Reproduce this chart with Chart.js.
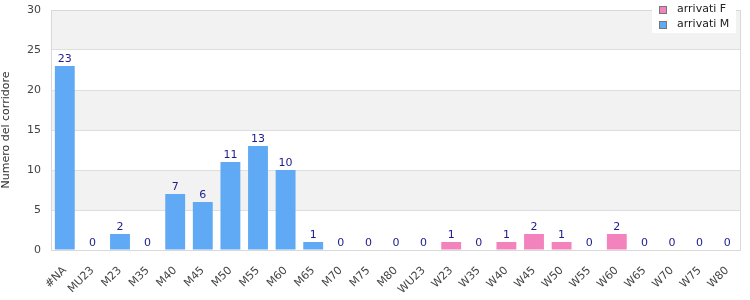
<!DOCTYPE html>
<html>
<head>
<meta charset="utf-8">
<style>
html,body{margin:0;padding:0;background:#fff;}
#wrap{width:750px;height:300px;position:relative;}
</style>
<script src="https://cdn.jsdelivr.net/npm/chart.js@4/dist/chart.umd.min.js"></script>
</head>
<body>
<div id="wrap"><canvas id="c" width="750" height="300"></canvas></div>
<script>
const categories = ['#NA','MU23','M23','M35','M40','M45','M50','M55','M60','M65','M70','M75','M80','WU23','W23','W35','W40','W45','W50','W55','W60','W65','W70','W75','W80'];
const arrivatiM = [23,0,2,0,7,6,11,13,10,1,0,0,0,null,null,null,null,null,null,null,null,null,null,null,null];
const arrivatiF = [null,null,null,null,null,null,null,null,null,null,null,null,null,0,1,0,1,2,1,0,2,0,0,0,0];
const yTicks = [0,5,10,15,20,25,30];
const seriesNames = ['arrivati F','arrivati M'];

const FONT = 'DejaVu Sans';
const blue = '#60a9f5';
const pink = '#f383bd';

const bandsPlugin = {
  id:'bands',
  beforeDraw(chart){
    const {ctx, chartArea:a, scales:{y}} = chart;
    ctx.save();
    for(let i=0;i<yTicks.length-1;i++){
      if((yTicks.length-2-i)%2===0){
        const top = y.getPixelForValue(yTicks[i+1]);
        const bot = y.getPixelForValue(yTicks[i]);
        ctx.fillStyle='#f2f2f2';
        ctx.fillRect(a.left, top, a.right-a.left, bot-top);
      }
    }
    ctx.restore();
  },
  afterDraw(chart){
    const {ctx, chartArea:a, scales:{x,y}} = chart;
    ctx.save();
    ctx.strokeStyle='#d9d9d9';
    ctx.lineWidth=1;
    ctx.strokeRect(Math.round(a.left)+0.5, Math.round(a.top)+0.5, Math.round(a.right-a.left)-1, Math.round(a.bottom-a.top));
    // value labels
    ctx.font = '11px '+FONT;
    ctx.fillStyle = '#1c1c8c';
    ctx.textAlign='center';
    ctx.textBaseline='alphabetic';
    categories.forEach((c,i)=>{
      const v = (arrivatiM[i]||0)+(arrivatiF[i]||0);
      const px = x.getPixelForValue(i);
      const py = y.getPixelForValue(v);
      ctx.fillText(String(v), px, py-4);
    });
    // legend
    const lx=652, ly=0, lw=84, lh=33;
    ctx.fillStyle='#ffffff';
    ctx.fillRect(lx,ly,lw,lh);
    const cols=[pink,blue];
    seriesNames.forEach((n,i)=>{
      const sy = 6+i*15;
      ctx.fillStyle=cols[i];
      ctx.fillRect(659.5,sy+0.5,7,7);
      ctx.strokeStyle='#777';
      ctx.strokeRect(659.5,sy+0.5,7,7);
      ctx.fillStyle='#222';
      ctx.textAlign='left';
      ctx.textBaseline='middle';
      ctx.font='11px '+FONT;
      ctx.fillText(n, 677, sy+3.5);
    });
    ctx.restore();
  }
};

new Chart(document.getElementById('c'),{
  type:'bar',
  data:{
    labels:categories,
    datasets:[
      {label:seriesNames[1], data:arrivatiM, backgroundColor:blue, borderWidth:0, barPercentage:0.72, categoryPercentage:1},
      {label:seriesNames[0], data:arrivatiF, backgroundColor:pink, borderWidth:0, barPercentage:0.72, categoryPercentage:1}
    ]
  },
  options:{
    responsive:false,
    animation:false,
    devicePixelRatio:1,
    layout:{padding:{top:10,right:9,left:0,bottom:0}},
    plugins:{legend:{display:false},tooltip:{enabled:false}},
    scales:{
      x:{
        stacked:true,
        grid:{display:false},
        border:{display:false},
        ticks:{font:{family:FONT,size:11},color:'#444',minRotation:45,maxRotation:45,autoSkip:false,padding:6},
        afterFit(s){s.height=50;s.paddingLeft=0;s.paddingRight=0;}
      },
      y:{
        stacked:true,
        min:0,max:30,
        afterBuildTicks(s){s.ticks=yTicks.map(v=>({value:v}));},
        grid:{color:'#dedede',drawTicks:false},
        border:{display:false},
        ticks:{font:{family:FONT,size:11},color:'#444',padding:10},
        title:{display:true,text:'Numero del corridore',font:{family:FONT,size:11},color:'#333',padding:0},
        afterFit(s){s.width=51;s.paddingTop=0;s.paddingBottom=0;}
      }
    }
  },
  plugins:[bandsPlugin]
});
</script>
</body>
</html>
